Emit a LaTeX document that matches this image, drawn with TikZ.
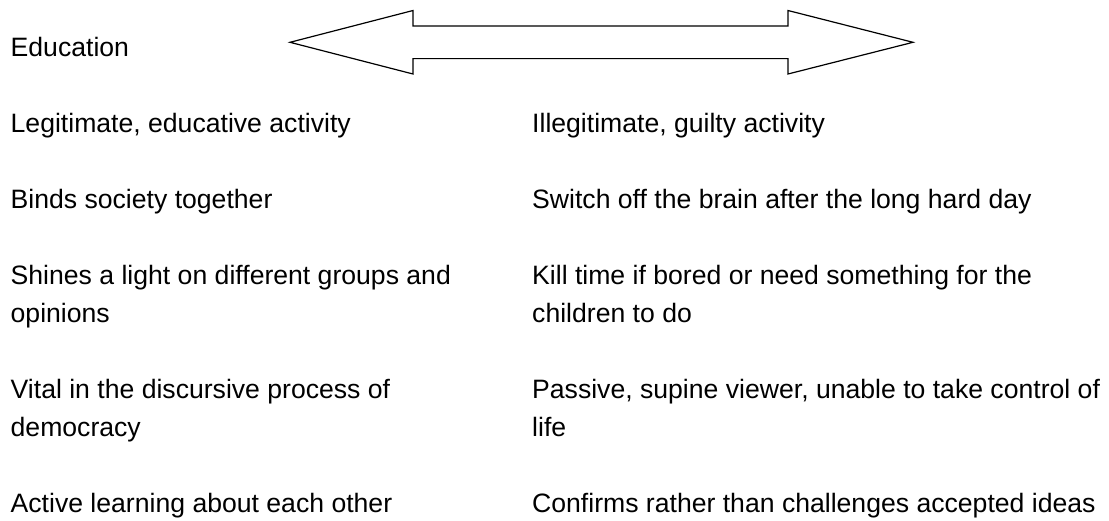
\documentclass[tikz,border=0pt]{standalone}
\usepackage{fontspec}
\setmainfont{Liberation Sans}
\begin{document}
\begin{tikzpicture}[x=1pt,y=-1pt,
  txt/.style={anchor=base west,inner sep=0pt,font=\fontsize{26.6}{38}\selectfont},
  blockarrow/.style={draw=black,line width=1.2pt,line join=miter,fill=white}]
\useasboundingbox (0,0) rectangle (1109,520);
% double-headed block arrow
\draw[blockarrow] (290,42.3) -- (413,10.5) -- (413,26) -- (788,26) -- (788,10.5)
  -- (913,42.3) -- (788,74) -- (788,58.6) -- (413,58.6) -- (413,74) -- cycle;
% left column
\node[txt] (edu) at (10.5,56) {Education};
\node[txt] (l1) at (10.5,132) {Legitimate, educative activity};
\node[txt] (l2) at (10.5,208) {Binds society together};
\node[txt] (l3a) at (10.5,284) {Shines a light on different groups and};
\node[txt] (l3b) at (10.5,322) {opinions};
\node[txt] (l4a) at (10.5,398) {Vital in the discursive process of};
\node[txt] (l4b) at (10.5,436) {democracy};
\node[txt] (l5) at (10.5,512) {Active learning about each other};
% right column
\node[txt] (r1) at (532,132) {Illegitimate, guilty activity};
\node[txt] (r2) at (532,208) {Switch off the brain after the long hard day};
\node[txt] (r3a) at (532,284) {Kill time if bored or need something for the};
\node[txt] (r3b) at (532,322) {children to do};
\node[txt] (r4a) at (532,398) {Passive, supine viewer, unable to take control of};
\node[txt] (r4b) at (532,436) {life};
\node[txt] (r5) at (532,512) {Confirms rather than challenges accepted ideas};
\end{tikzpicture}
\end{document}
